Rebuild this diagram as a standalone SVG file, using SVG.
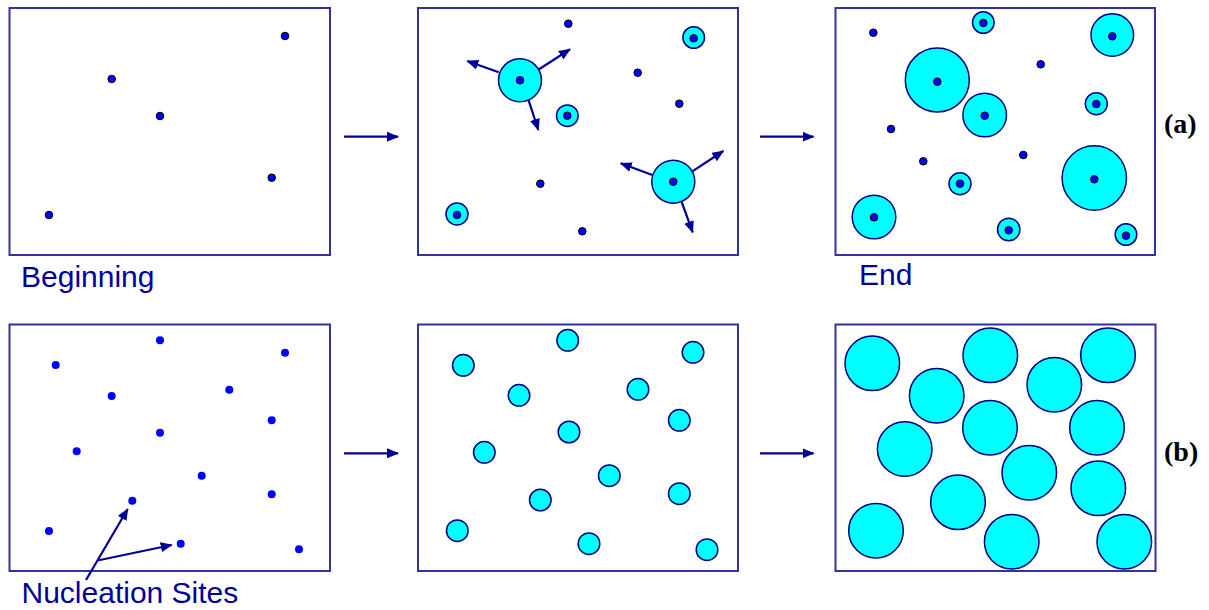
<svg xmlns="http://www.w3.org/2000/svg" width="1209" height="610" viewBox="0 0 1209 610">
<style>
.frame{fill:#fff;stroke:#3333a0;stroke-width:2}
.dot{fill:#0000ff;stroke:#000;stroke-width:1}
.bdot{fill:#0000ff}
.g{fill:#00ffff;stroke:#000080;stroke-width:1.5}
.conn{stroke:#000099;stroke-width:2.2;fill:none}
.lbl{font-family:"Liberation Sans",Arial,sans-serif;font-size:30px;fill:#000099}
.tag{font-family:"Liberation Serif","Times New Roman",serif;font-size:28px;font-weight:bold;fill:#000}
</style>
<defs>
<marker id="ah" viewBox="0 0 12 10" refX="11" refY="5" markerWidth="12" markerHeight="10" markerUnits="userSpaceOnUse" orient="auto">
<path d="M0,0 L12,5 L0,10 Z" fill="#000099"/>
</marker>
</defs>
<rect width="1209" height="610" fill="#fff"/>

<g id="panel-a1">
<rect class="frame" x="9.5" y="8" width="320.5" height="247"/>
<circle class="dot" cx="285" cy="36" r="3.8"/>
<circle class="dot" cx="111.7" cy="79" r="3.8"/>
<circle class="dot" cx="160" cy="116" r="3.8"/>
<circle class="dot" cx="271.7" cy="177.7" r="3.8"/>
<circle class="dot" cx="49" cy="215" r="3.8"/>
</g>

<g id="panel-a2">
<rect class="frame" x="418" y="8" width="320" height="247"/>
<circle class="g" cx="520" cy="80.3" r="21.5"/>
<circle class="dot" cx="520" cy="80.3" r="3.8"/>
<circle class="g" cx="673.3" cy="181.7" r="21.5"/>
<circle class="dot" cx="673.3" cy="181.7" r="3.8"/>
<circle class="g" cx="693.7" cy="37.5" r="10.8"/>
<circle class="dot" cx="693.7" cy="38.3" r="3.8"/>
<circle class="g" cx="567.3" cy="115.7" r="10.8"/>
<circle class="dot" cx="567.3" cy="115.7" r="3.8"/>
<circle class="g" cx="457" cy="214" r="11"/>
<circle class="dot" cx="457" cy="215" r="3.8"/>
<circle class="dot" cx="568.3" cy="23.7" r="3.8"/>
<circle class="dot" cx="637.7" cy="72.7" r="3.8"/>
<circle class="dot" cx="679.3" cy="103.7" r="3.8"/>
<circle class="dot" cx="540.3" cy="183.7" r="3.8"/>
<circle class="dot" cx="582.3" cy="231.3" r="3.8"/>
</g>

<g id="panel-a3">
<rect class="frame" x="835.5" y="8" width="319.5" height="247"/>
<circle class="g" cx="937.3" cy="80" r="32"/>
<circle class="dot" cx="937.3" cy="81.7" r="3.8"/>
<circle class="g" cx="1094.3" cy="178" r="32.2"/>
<circle class="dot" cx="1094.3" cy="179.3" r="3.8"/>
<circle class="g" cx="1112.3" cy="35" r="21.3"/>
<circle class="dot" cx="1112.3" cy="36.3" r="3.8"/>
<circle class="g" cx="984.7" cy="115" r="21.8"/>
<circle class="dot" cx="984.7" cy="115.7" r="3.8"/>
<circle class="g" cx="874" cy="217" r="21.8"/>
<circle class="dot" cx="874" cy="217.3" r="3.8"/>
<circle class="g" cx="983.3" cy="22.5" r="10.8"/>
<circle class="dot" cx="983.3" cy="23" r="3.8"/>
<circle class="g" cx="1096.3" cy="103.7" r="11"/>
<circle class="dot" cx="1096.3" cy="104" r="3.8"/>
<circle class="g" cx="960" cy="183.7" r="11"/>
<circle class="dot" cx="960" cy="183.7" r="3.8"/>
<circle class="g" cx="1008.7" cy="229.5" r="11.2"/>
<circle class="dot" cx="1008.7" cy="230.3" r="3.8"/>
<circle class="g" cx="1126" cy="234.5" r="10.8"/>
<circle class="dot" cx="1126" cy="235.7" r="3.8"/>
<circle class="dot" cx="873.3" cy="32.7" r="3.8"/>
<circle class="dot" cx="1040.7" cy="64.3" r="3.8"/>
<circle class="dot" cx="891" cy="129" r="3.8"/>
<circle class="dot" cx="923.3" cy="161.3" r="3.8"/>
<circle class="dot" cx="1023.3" cy="155" r="3.8"/>
</g>

<g id="panel-b1">
<rect class="frame" x="9.5" y="324.5" width="320.5" height="246.5"/>
<circle class="bdot" cx="160" cy="340.3" r="4"/>
<circle class="bdot" cx="55.7" cy="365" r="4"/>
<circle class="bdot" cx="285" cy="352.7" r="4"/>
<circle class="bdot" cx="111.7" cy="396" r="4"/>
<circle class="bdot" cx="229.3" cy="389.7" r="4"/>
<circle class="bdot" cx="271.7" cy="420.3" r="4"/>
<circle class="bdot" cx="160" cy="432.7" r="4"/>
<circle class="bdot" cx="76.7" cy="451.3" r="4"/>
<circle class="bdot" cx="201.7" cy="475.7" r="4"/>
<circle class="bdot" cx="271.7" cy="494.3" r="4"/>
<circle class="bdot" cx="132.3" cy="500.7" r="4"/>
<circle class="bdot" cx="49" cy="531" r="4"/>
<circle class="bdot" cx="180.7" cy="543.7" r="4"/>
<circle class="bdot" cx="299" cy="549.3" r="4"/>
</g>

<g id="panel-b2">
<rect class="frame" x="418" y="324.5" width="320" height="246.5"/>
<circle class="g" cx="567.7" cy="340.3" r="10.8"/>
<circle class="g" cx="463.3" cy="365.3" r="10.8"/>
<circle class="g" cx="693" cy="352.3" r="10.8"/>
<circle class="g" cx="519" cy="395.3" r="10.8"/>
<circle class="g" cx="638" cy="389.3" r="10.8"/>
<circle class="g" cx="679.3" cy="420.3" r="10.8"/>
<circle class="g" cx="569" cy="432" r="10.8"/>
<circle class="g" cx="484.3" cy="452.3" r="10.8"/>
<circle class="g" cx="609.3" cy="475.7" r="10.8"/>
<circle class="g" cx="679.3" cy="493.7" r="10.8"/>
<circle class="g" cx="540.3" cy="500" r="10.8"/>
<circle class="g" cx="457.3" cy="530.7" r="10.8"/>
<circle class="g" cx="589" cy="543.7" r="10.8"/>
<circle class="g" cx="707" cy="549.7" r="10.8"/>
</g>

<g id="panel-b3">
<rect class="frame" x="835.5" y="324.5" width="320" height="246.5"/>
<circle class="g" cx="872.3" cy="363.3" r="27.3"/>
<circle class="g" cx="990.3" cy="355.3" r="27.3"/>
<circle class="g" cx="1108" cy="355.3" r="27.3"/>
<circle class="g" cx="936.7" cy="395.7" r="27.3"/>
<circle class="g" cx="1054.3" cy="384.7" r="27.3"/>
<circle class="g" cx="990" cy="427.7" r="27.3"/>
<circle class="g" cx="1097" cy="427.7" r="27.3"/>
<circle class="g" cx="904.7" cy="449" r="27.3"/>
<circle class="g" cx="1029.3" cy="472.7" r="27.3"/>
<circle class="g" cx="1098.3" cy="488.3" r="27.3"/>
<circle class="g" cx="958" cy="502.3" r="27.3"/>
<circle class="g" cx="876" cy="530.7" r="27.3"/>
<circle class="g" cx="1011.7" cy="541.7" r="27.3"/>
<circle class="g" cx="1124.3" cy="541.7" r="27.3"/>
</g>

<g id="connectors">
<line class="conn" x1="344" y1="136.7" x2="398" y2="136.7" marker-end="url(#ah)"/>
<line class="conn" x1="760" y1="136.7" x2="813.5" y2="136.7" marker-end="url(#ah)"/>
<line class="conn" x1="344" y1="453.3" x2="398" y2="453.3" marker-end="url(#ah)"/>
<line class="conn" x1="760" y1="453.3" x2="813.5" y2="453.3" marker-end="url(#ah)"/>
<line class="conn" x1="498.7" y1="72.3" x2="467.3" y2="61" marker-end="url(#ah)"/>
<line class="conn" x1="538.3" y1="69.7" x2="570" y2="49.3" marker-end="url(#ah)"/>
<line class="conn" x1="528.3" y1="99.3" x2="538.3" y2="130" marker-end="url(#ah)"/>
<line class="conn" x1="652.3" y1="175" x2="620.7" y2="163.3" marker-end="url(#ah)"/>
<line class="conn" x1="692" y1="171.7" x2="723.3" y2="151" marker-end="url(#ah)"/>
<line class="conn" x1="681.7" y1="202" x2="692.7" y2="232.3" marker-end="url(#ah)"/>
<line class="conn" x1="86" y1="580" x2="127.7" y2="509" marker-end="url(#ah)"/>
<line class="conn" x1="97.5" y1="560.5" x2="171.7" y2="545" marker-end="url(#ah)"/>
</g>

<g id="labels">
<text class="lbl" x="21" y="287">Beginning</text>
<text class="lbl" x="859" y="285">End</text>
<text class="lbl" x="21.5" y="603">Nucleation Sites</text>
<text class="tag" x="1164" y="133">(a)</text>
<text class="tag" x="1164" y="461">(b)</text>
</g>
</svg>
